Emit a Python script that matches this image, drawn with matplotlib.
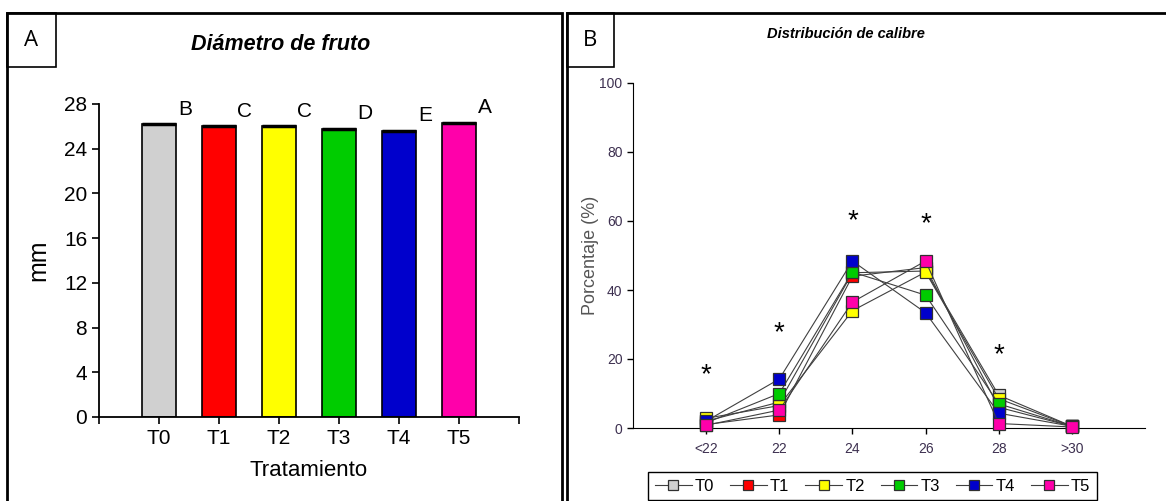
import matplotlib
matplotlib.use('Agg')
import matplotlib.pyplot as plt
from matplotlib.patches import Rectangle
import numpy as np

plt.rcParams['font.family'] = ['Liberation Sans', 'DejaVu Sans']

# ---- data, panel A
trat = ['T0', 'T1', 'T2', 'T3', 'T4', 'T5']
diam = [26.2, 26.0, 26.0, 25.8, 25.6, 26.3]
letras = ['B', 'C', 'C', 'D', 'E', 'A']
colores = ['#d0d0d0', '#ff0000', '#ffff00', '#00cc00', '#0000cc', '#ff00aa']

# ---- data, panel B
calibres = ['<22', '22', '24', '26', '28', '>30']
pct_T0 = [2.0, 7.5, 45.0, 45.5, 9.5, 0.5]
pct_T1 = [1.0, 3.8, 44.0, 46.5, 6.0, 0.5]
pct_T2 = [2.8, 6.5, 34.0, 45.2, 8.5, 0.5]
pct_T3 = [1.5, 10.0, 45.2, 38.5, 7.0, 0.5]
pct_T4 = [2.0, 14.2, 48.4, 33.4, 4.3, 0.5]
pct_T5 = [0.8, 5.2, 36.5, 48.4, 1.3, 0.3]
asteriscos = [15.4, 27.5, 60.0, 59.0, 21.0]

W, H = 1166, 501
fig = plt.figure(figsize=(W / 100, H / 100), dpi=100)

def fx(px):
    return px / W

def fy(py):
    return 1 - py / H

# panel frames and letter boxes
for x0, x1 in [(7, 562), (567, 1180)]:
    fig.add_artist(Rectangle((fx(x0), -0.05), fx(x1) - fx(x0), fy(13) + 0.05,
                             transform=fig.transFigure, fill=False, lw=2, ec='black'))
for x0, x1, lab in [(7, 56, 'A'), (567, 614, 'B')]:
    fig.add_artist(Rectangle((fx(x0), fy(67)), fx(x1) - fx(x0), fy(13) - fy(67),
                             transform=fig.transFigure, fill=False, lw=1.2, ec='black'))
    fig.text((fx(x0) + fx(x1)) / 2, (fy(13) + fy(67)) / 2, lab, ha='center', va='center',
             fontsize=16, family=['Open Sans', 'DejaVu Sans'])

# ---------------- panel A
ax = fig.add_axes([fx(99), fy(417), fx(519) - fx(99), fy(104) - fy(417)])
x = np.arange(len(trat))
w = 0.57
ax.bar(x, diam, width=w, color=colores, edgecolor='black', lw=1.2, zorder=2)
ax.hlines(diam, x - w / 2, x + w / 2, colors='black', lw=2.5, zorder=3)
for xi, v, l in zip(x, diam, letras):
    ax.text(xi + 0.43, v + 0.5, l, ha='center', va='bottom', fontsize=15)
ax.set_xlim(-1, 6)
ax.set_ylim(0, 28)
ax.set_yticks(range(0, 29, 4))
ax.set_xticks(list(x) + [-1, 6])
ax.set_xticklabels(trat + ['', ''])
ax.tick_params(axis='both', labelsize=15, direction='out', length=5, width=1.2)
ax.spines[['top', 'right']].set_visible(False)
ax.spines[['left', 'bottom']].set_linewidth(1.3)
ax.set_xlabel('Tratamiento', fontsize=16, labelpad=9)
ax.set_ylabel('mm', fontsize=18, labelpad=10)
fig.text(fx(281), fy(45), 'Diámetro de fruto', ha='center', va='center', fontsize=15.5,
         fontweight='bold', fontstyle='italic')

# ---------------- panel B
bx = fig.add_axes([fx(633), fy(428), fx(1145) - fx(633), fy(83) - fy(428)])
xc = np.arange(len(calibres))
series = [pct_T0, pct_T1, pct_T2, pct_T3, pct_T4, pct_T5]
for i, (vals, c) in enumerate(zip(series, colores)):
    bx.plot(xc, vals, color='#404040', lw=0.8, marker='s', ms=9, mfc=c, mec='#303030',
            mew=0.9, clip_on=False, zorder=3 + i, label=trat[i])
for xi, v in zip(xc, asteriscos):
    bx.text(xi, v, '*', ha='center', va='center', fontsize=20, color='black')
bx.set_xlim(-1, 6)
bx.set_ylim(0, 100)
bx.set_yticks(range(0, 101, 20))
bx.set_xticks(xc)
bx.set_xticklabels(calibres)
bx.tick_params(axis='both', labelsize=10, labelcolor='#3d3050', direction='out', length=4, width=1)
bx.tick_params(axis='x', pad=6)
bx.spines[['top', 'right']].set_visible(False)
bx.set_ylabel('Porcentaje (%)', fontsize=13, color='#555555', labelpad=0)
fig.text(fx(846), fy(34), 'Distribución de calibre', ha='center', va='center', fontsize=10.5,
         fontweight='bold', fontstyle='italic')
leg = bx.legend(loc='upper center', bbox_to_anchor=(0.468, -0.128), ncol=6, fontsize=12,
                frameon=True, fancybox=False, edgecolor='black', framealpha=1,
                handlelength=2.2, handletextpad=0.2, columnspacing=0.95, borderpad=0.4,
                borderaxespad=0, markerscale=0.8)
leg.get_frame().set_linewidth(1)

fig.savefig('out.png', dpi=100)
